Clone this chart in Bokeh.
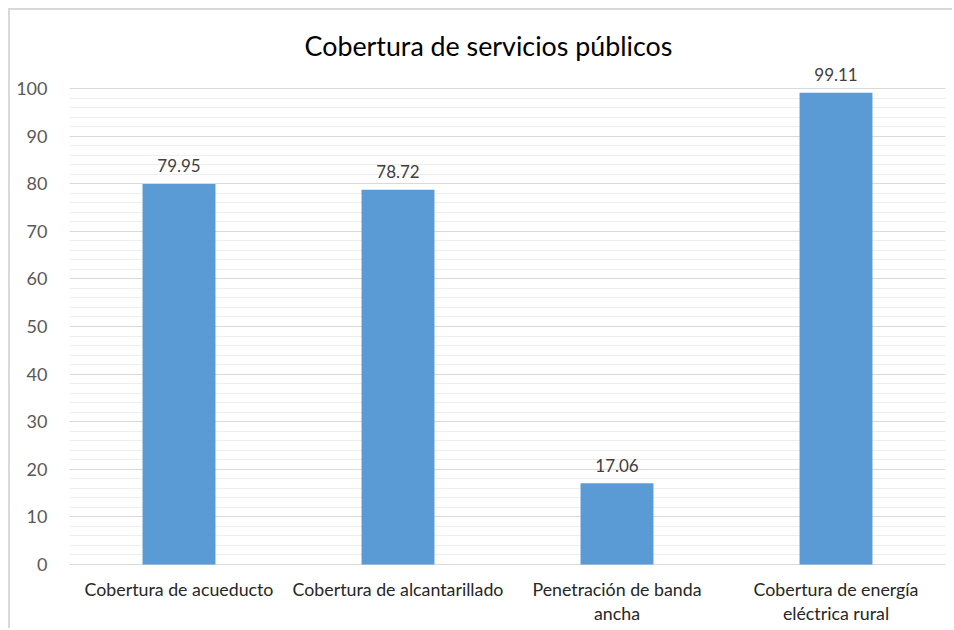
from bokeh.plotting import figure
from bokeh.models import ColumnDataSource, SingleIntervalTicker, Range1d
from bokeh.core.properties import value
from bokeh.embed import file_html
from bokeh.resources import INLINE

categories = ["Cobertura de acueducto", "Cobertura de alcantarillado",
              "Penetración de banda ancha", "Cobertura de energía eléctrica rural"]
wrapped = ["Cobertura de acueducto", "Cobertura de alcantarillado",
           "Penetración de banda\nancha", "Cobertura de energía\neléctrica rural"]
values = [79.95, 78.72, 17.06, 99.11]
value_labels = ["79.95", "78.72", "17.06", "99.11"]
title_text = "Cobertura de servicios públicos"

FONT = "Lato"

xs = [i + 0.5 for i in range(len(categories))]
line1 = [w.split("\n")[0] for w in wrapped]
line2 = [w.split("\n")[1] if "\n" in w else "" for w in wrapped]
zeros = [0] * len(categories)

src = ColumnDataSource(dict(x=xs, val=values, lab=value_labels, l1=line1, l2=line2, z=zeros))

# frame: 0 at page y 564, 100 at page y 88 (4.76 px per unit)
p = figure(x_range=Range1d(0, len(categories)), y_range=Range1d(-13.866, 116.39),
           width=944, height=620, output_backend="svg", toolbar_location=None,
           x_axis_location=None,
           min_border_left=59, min_border_right=9, min_border_top=0, min_border_bottom=0)
p.styles = {"margin-left": "8px", "margin-top": "8px",
            "border-left": "2px solid #d9d9d9", "border-top": "2px solid #d9d9d9"}

p.outline_line_color = None
p.xgrid.grid_line_color = None
p.ygrid.grid_line_color = "#d9d9d9"
p.ygrid.minor_grid_line_color = "#eeeeee"
p.ygrid.bounds = (0, 100)
p.yaxis.bounds = (0, 100)
p.yaxis.ticker = SingleIntervalTicker(interval=10, num_minor_ticks=5)
p.ygrid.ticker = p.yaxis.ticker
p.yaxis.axis_line_color = None
p.yaxis.major_tick_line_color = None
p.yaxis.minor_tick_line_color = None
p.yaxis.major_label_text_font = FONT
p.yaxis.major_label_text_font_size = "18px"
p.yaxis.major_label_text_color = "#595959"
p.yaxis.major_label_standoff = 16

p.vbar(x="x", top="val", width=0.333, source=src, color="#5b9bd5", line_color=None)

# data labels
p.text(x="x", y="val", text="lab", source=src, text_align="center",
       text_baseline="alphabetic", y_offset=-18, text_font=value(FONT),
       text_font_size="17px", text_color="#404040")

# category labels
p.text(x="x", y="z", text="l1", source=src, text_align="center",
       text_baseline="middle", y_offset=25, text_font=value(FONT),
       text_font_size="17.8px", text_color="#262626")
p.text(x="x", y="z", text="l2", source=src, text_align="center",
       text_baseline="middle", y_offset=49, text_font=value(FONT),
       text_font_size="17.8px", text_color="#262626")

# title
p.text(x=[1.913], y=[109.0], text=[title_text], text_align="center",
       text_baseline="middle", text_font=value(FONT),
       text_font_size="26.8px", text_color="#000000")

open("out.html", "w").write(file_html(p, INLINE))
